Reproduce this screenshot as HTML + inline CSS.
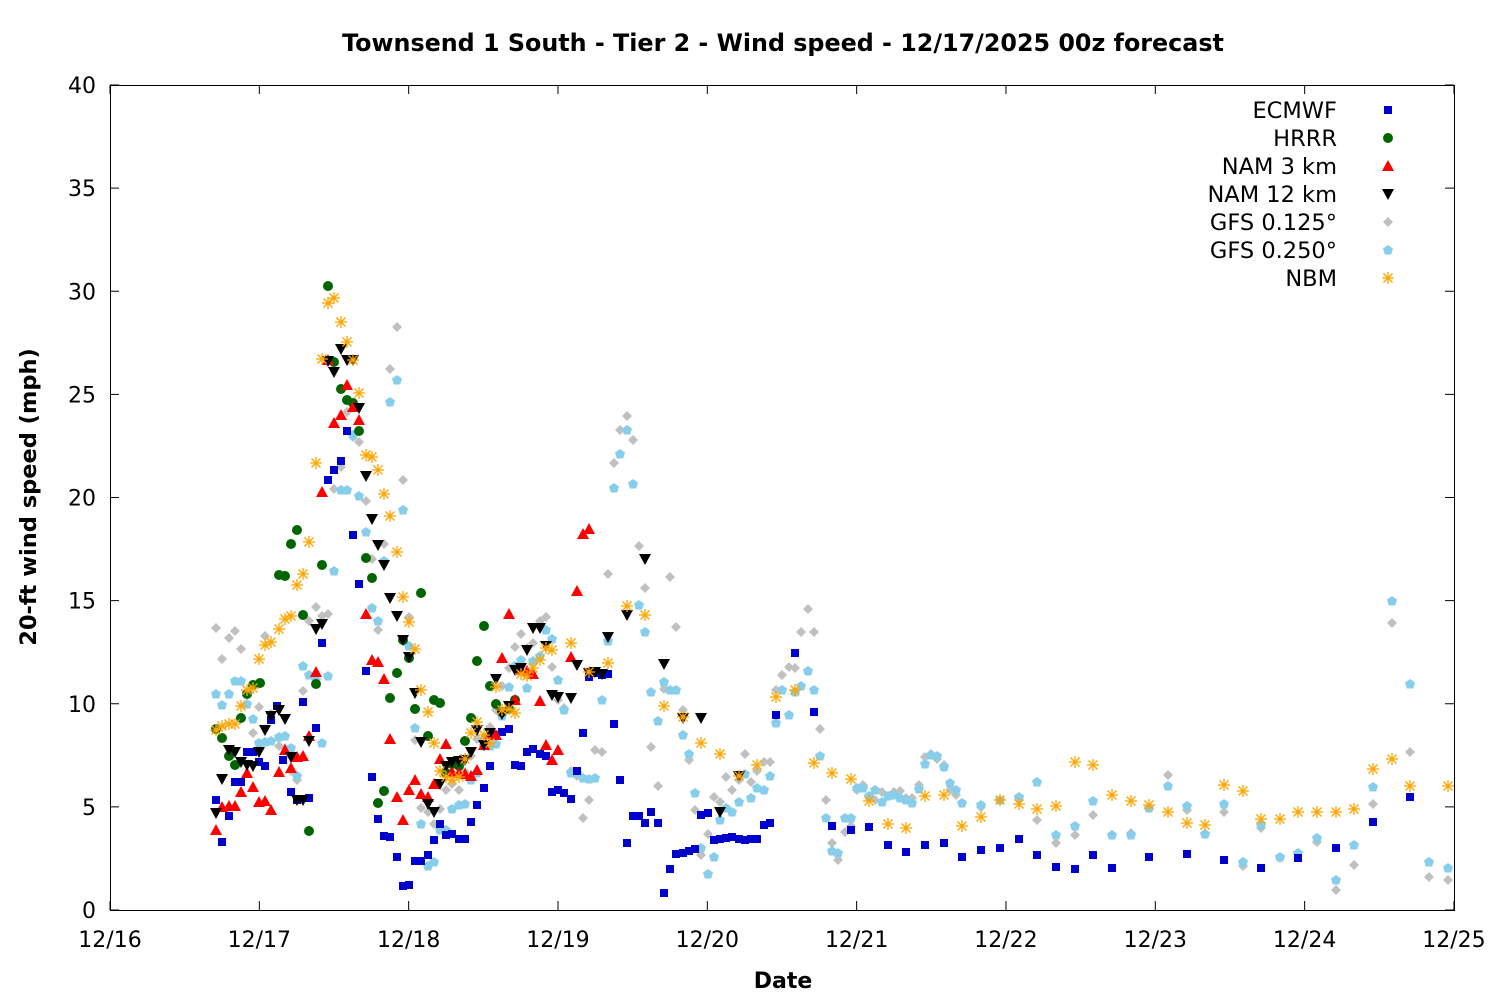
<!DOCTYPE html><html><head><meta charset="utf-8"><style>body{margin:0;background:#fff}svg{display:block}text{font-family:"DejaVu Sans","Liberation Sans",sans-serif;fill:#000}</style></head><body>
<svg id="s" width="1500" height="1000" xmlns="http://www.w3.org/2000/svg">
<rect x="110.5" y="85.5" width="1344" height="825" fill="none" stroke="#000" stroke-width="1"/>
<g id="ax"></g><g id="pts"></g>
<text x="783" y="51" text-anchor="middle" font-weight="bold" font-size="23.8">Townsend 1 South - Tier 2 - Wind speed - 12/17/2025 00z forecast</text>
<text x="783" y="988" text-anchor="middle" font-weight="bold" font-size="22">Date</text>
<text transform="translate(36,497) rotate(-90)" text-anchor="middle" font-weight="bold" font-size="22.5">20-ft wind speed (mph)</text>
</svg>
<script>
const NS="http://www.w3.org/2000/svg",ax=document.getElementById('ax'),P=document.getElementById('pts');
function el(t,a,p){const e=document.createElementNS(NS,t);for(const k in a)e.setAttribute(k,a[k]);(p||ax).appendChild(e);return e;}
for(let i=0;i<=8;i++){const y=910-i*103.125;el('line',{x1:110,x2:119,y1:y,y2:y,stroke:'#000'});el('line',{x1:1445,x2:1454,y1:y,y2:y,stroke:'#000'});const t=el('text',{x:96,y:y+8,'text-anchor':'end','font-size':'22'});t.textContent=i*5;}
const dl=['12/16','12/17','12/18','12/19','12/20','12/21','12/22','12/23','12/24','12/25'];
for(let i=0;i<=9;i++){const x=110+i*149.33;el('line',{x1:x,x2:x,y1:910,y2:901,stroke:'#000'});el('line',{x1:x,x2:x,y1:85,y2:94,stroke:'#000'});const t=el('text',{x:x,y:947,'text-anchor':'middle','font-size':'22'});t.textContent=dl[i];}
function mk(type,x,y){
 if(type==0)el('rect',{x:x-4,y:y-4,width:8,height:8,fill:'#0000cc'},P);
 else if(type==1)el('circle',{cx:x,cy:y,r:5,fill:'#006400'},P);
 else if(type==2)el('polygon',{points:`${x},${y-6} ${x+6},${y+5} ${x-6},${y+5}`,fill:'#ff0000'},P);
 else if(type==3)el('polygon',{points:`${x-6},${y-5} ${x+6},${y-5} ${x},${y+6}`,fill:'#000'},P);
 else if(type==4)el('polygon',{points:`${x},${y-5} ${x+5},${y} ${x},${y+5} ${x-5},${y}`,fill:'#c0c0c0'},P);
 else if(type==5)el('polygon',{points:`${x},${y-5} ${x+5},${y-1.5} ${x+3.2},${y+4.5} ${x-3.2},${y+4.5} ${x-5},${y-1.5}`,fill:'#87ceeb'},P);
 else {const g={stroke:'#ffa500','stroke-width':1.3};el('line',Object.assign({x1:x-6,x2:x+6,y1:y,y2:y},g),P);el('line',Object.assign({x1:x,x2:x,y1:y-6,y2:y+6},g),P);el('line',Object.assign({x1:x-4.5,x2:x+4.5,y1:y-4.5,y2:y+4.5},g),P);el('line',Object.assign({x1:x-4.5,x2:x+4.5,y1:y+4.5,y2:y-4.5},g),P);}
}
const D=[
"216,800 222,842 229,816 235,782 241,782 247,752 253,752 259,762 265,766 271,720 277,706 283,760 291,792 297,800 303,702 309,798 316,728 322,643 328,480 334,470 341,461 347,431 353,535 359,584 366,671 372,777 378,819 384,836 390,837 397,857 403,886 409,885 415,861 421,861 428,855 434,840 440,824 446,835 452,834 459,839 465,839 471,822 477,805 484,788 490,766 496,735 502,732 509,729 515,765 521,766 527,752 533,749 540,754 546,756 552,792 558,790 564,793 571,799 577,771 583,733 589,677 595,673 602,675 608,674 614,724 620,780 627,843 633,816 639,816 645,823 651,812 658,823 664,893 670,869 676,854 683,853 689,851 695,849 701,815 708,813 714,840 720,839 726,838 732,837 739,839 745,840 751,839 757,839 764,825 770,823 776,715 795,653 814,712 832,826 851,830 869,827 888,845 906,852 925,845 944,843 962,857 981,850 1000,848 1019,839 1037,855 1056,867 1075,869 1093,855 1112,868 1149,857 1187,854 1224,860 1261,868 1298,858 1336,848 1373,822 1410,797",
"216,729 222,738 229,756 235,765 241,718 247,694 253,685 260,683 279,575 285,576 291,544 297,530 303,615 309,831 316,684 322,565 328,286 334,362 341,389 347,400 353,403 359,431 366,558 372,578 378,803 384,791 390,698 397,673 403,640 409,658 415,709 421,593 428,736 434,700 440,703 446,773 452,764 459,766 465,741 471,718 477,661 484,626 490,686 496,704 502,712 509,709 515,700",
"216,830 222,807 229,806 235,806 241,792 247,773 253,787 259,802 265,801 271,810 279,772 285,750 291,768 297,757 303,756 309,736 316,672 322,492 328,360 334,423 341,415 347,385 353,407 359,420 366,614 372,660 378,662 384,679 390,739 397,797 403,820 409,790 415,780 421,794 428,797 434,784 440,759 446,744 452,772 459,773 465,774 471,776 477,770 484,745 490,734 496,735 502,658 509,614 515,700 521,670 527,671 533,674 540,701 546,745 552,760 558,750 571,657 577,591 583,534 589,529",
"216,813 222,779 229,750 235,752 241,762 247,765 253,766 259,752 265,730 271,716 279,710 285,719 291,757 297,800 303,800 309,741 316,629 322,624 328,361 334,372 341,349 347,360 353,360 359,408 366,476 372,519 378,545 384,565 390,598 397,616 403,640 409,657 415,693 421,742 428,804 434,812 440,784 446,766 452,762 459,761 465,760 471,752 477,730 484,745 490,733 496,679 502,714 509,706 515,670 521,668 527,650 533,628 540,628 546,646 552,695 558,697 571,698 577,665 589,673 595,672 602,674 608,637 627,615 645,559 664,664 683,718 701,718 720,812 739,776",
"216,628 222,659 229,638 235,631 241,649 247,704 253,733 259,707 265,636 271,714 279,746 285,748 291,771 297,780 303,691 309,621 316,607 322,616 328,614 334,489 341,467 347,412 353,437 359,442 366,501 372,559 378,630 384,544 390,369 397,327 403,480 409,617 415,740 421,808 428,812 434,824 440,809 446,790 452,784 459,790 465,772 471,756 477,739 484,738 490,727 496,710 502,686 509,668 515,647 521,634 527,648 533,643 540,621 546,617 552,667 558,700 564,708 571,771 577,776 583,818 589,800 595,750 602,752 608,574 614,463 620,430 627,416 633,440 639,546 645,588 651,747 658,786 664,689 670,577 676,627 683,710 689,760 695,810 701,855 708,834 714,797 720,802 726,777 732,790 739,780 745,754 751,782 757,771 764,762 770,762 776,690 782,675 789,667 795,668 801,632 808,609 814,632 820,729 826,800 832,843 838,860 845,832 851,826 857,790 863,785 869,796 875,800 882,792 888,796 894,792 900,791 906,798 912,798 919,785 925,757 931,754 937,759 944,765 950,790 956,795 962,803 981,807 1000,800 1019,798 1037,820 1056,843 1075,835 1093,815 1112,835 1131,833 1149,808 1168,775 1187,810 1205,834 1224,812 1243,866 1261,828 1280,858 1298,853 1317,842 1336,890 1354,865 1373,804 1392,623 1410,752 1429,877 1448,880",
"216,694 222,705 229,694 235,681 241,681 247,704 253,719 259,743 265,742 271,741 279,737 285,736 291,748 297,776 303,666 309,675 316,680 322,743 328,676 334,571 341,490 347,490 353,435 359,496 366,532 372,608 378,621 384,561 390,402 397,380 403,510 409,646 415,728 421,824 428,866 434,862 440,830 446,830 452,809 459,805 465,804 471,780 477,773 484,746 490,746 496,744 502,716 509,687 515,666 521,660 527,688 533,661 540,656 546,630 552,639 558,680 564,710 571,773 577,773 583,778 589,779 595,778 602,700 608,641 614,488 620,454 627,430 633,484 639,605 645,632 651,692 658,721 664,682 670,690 676,690 683,735 689,754 695,793 701,848 708,874 714,857 720,820 726,808 732,812 739,802 745,774 751,798 757,788 764,790 770,776 776,723 782,690 789,715 795,692 801,686 808,671 814,690 820,756 826,818 832,851 838,853 845,818 851,818 857,788 863,788 869,796 875,790 882,802 888,796 894,795 900,798 906,800 912,803 919,789 925,764 931,755 937,756 944,767 950,783 956,790 962,803 981,805 1000,800 1019,797 1037,782 1056,835 1075,826 1093,801 1112,835 1131,835 1149,808 1168,786 1187,806 1205,834 1224,804 1243,862 1261,825 1280,857 1298,853 1317,838 1336,880 1354,845 1373,787 1392,601 1410,684 1429,862 1448,868",
"216,730 222,726 229,724 235,724 241,706 247,690 253,688 259,659 265,645 271,642 279,629 285,619 291,616 297,585 303,574 309,542 316,463 322,359 328,303 334,298 341,322 347,342 353,360 359,393 366,455 372,457 378,470 384,494 390,516 397,552 403,597 409,622 415,649 421,690 428,712 434,743 440,771 446,777 452,780 459,777 465,759 471,733 477,722 484,735 490,743 496,687 502,710 509,709 515,713 521,674 527,676 533,668 540,660 546,648 552,650 571,643 589,672 608,663 627,606 645,615 664,706 683,717 701,743 720,754 739,776 757,765 776,697 795,690 814,763 832,773 851,779 869,801 888,824 906,828 925,796 944,795 962,826 981,817 1000,800 1019,804 1037,809 1056,806 1075,762 1093,765 1112,795 1131,801 1149,805 1168,812 1187,823 1205,825 1224,785 1243,791 1261,819 1280,819 1298,812 1317,812 1336,812 1354,809 1373,769 1392,759 1410,786 1448,786"];
const order=[4,5,0,1,2,3,6];
order.forEach(t=>D[t].split(' ').forEach(p=>{const [x,y]=p.split(',').map(Number);mk(t,x,y);}));
const L=['ECMWF','HRRR','NAM 3 km','NAM 12 km','GFS 0.125°','GFS 0.250°','NBM'];
L.forEach((n,i)=>{const y=110+i*28;const t=el('text',{x:1337,y:y+8,'text-anchor':'end','font-size':'22.5'},P);t.textContent=n;mk(i,1388,y);});
</script>
</body></html>
